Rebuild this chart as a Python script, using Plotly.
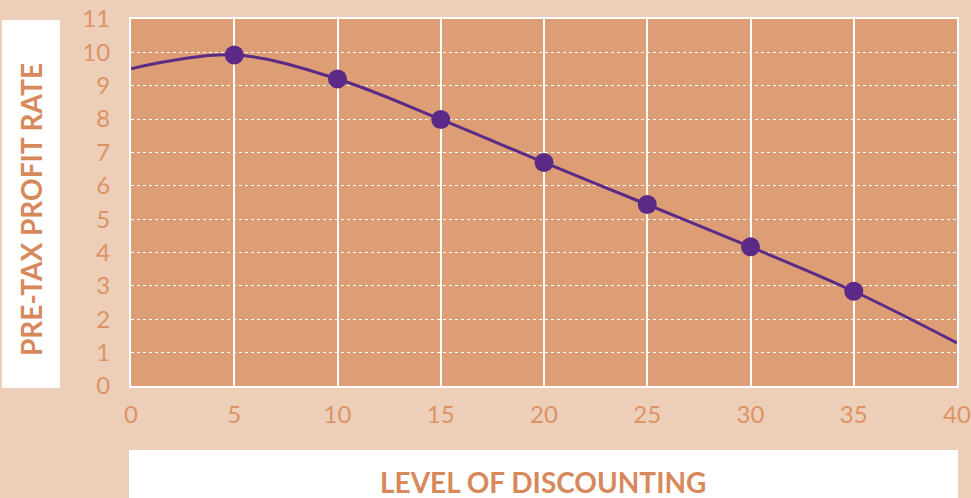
import plotly.graph_objects as go

# Pre-tax profit rate at each level of discounting
discount_levels = [5, 10, 15, 20, 25, 30, 35]
profit_rates = [9.92, 9.2, 7.99, 6.7, 5.44, 4.17, 2.84]

# Fitted curve continues to the axis limits
curve_start = (0, 9.51)
curve_end = (40, 1.29)

x_ticks = [0, 5, 10, 15, 20, 25, 30, 35, 40]
y_ticks = list(range(0, 12))

PAPER_BG = "#EDCFB9"
PLOT_BG = "#DD9E76"
TICK_COLOR = "#DC9364"
TITLE_COLOR = "#D8895B"
PURPLE = "#5A2A86"

curve_x = [curve_start[0]] + discount_levels + [curve_end[0]]
curve_y = [curve_start[1]] + profit_rates + [curve_end[1]]

fig = go.Figure()
fig.add_trace(go.Scatter(
    x=curve_x, y=curve_y, mode="lines",
    line=dict(color=PURPLE, width=3, shape="spline", smoothing=1.0),
    hoverinfo="skip", showlegend=False,
))
fig.add_trace(go.Scatter(
    x=discount_levels, y=profit_rates, mode="markers",
    marker=dict(color=PURPLE, size=19),
    showlegend=False,
))

# Plot area spans 131..957 px horizontally and 19..386 px vertically
L, R, T, B = 131, 957, 19, 386
W, H = R - L, B - T


def px_x(p):
    return (p - L) / W


def px_y(p):
    return (B - p) / H


fig.update_layout(
    width=971, height=498, autosize=False,
    margin=dict(l=L, r=971 - R, t=T, b=498 - B),
    paper_bgcolor=PAPER_BG, plot_bgcolor=PLOT_BG,
    font=dict(family="Lato, sans-serif", color=TICK_COLOR, size=23),
    xaxis=dict(
        range=[0, 40], tickvals=x_ticks, ticks="", automargin=False,
        showgrid=True, gridcolor="white", gridwidth=2,
        zeroline=False, showline=True, linecolor="white", linewidth=2, mirror=True,
        tickfont=dict(size=24, color=TICK_COLOR), ticklabelstandoff=6,
    ),
    yaxis=dict(
        range=[0, 11], tickvals=y_ticks, ticks="", automargin=False,
        showgrid=True, gridcolor="white", gridwidth=1, griddash="dot",
        zeroline=False, showline=True, linecolor="white", linewidth=2, mirror=True,
        tickfont=dict(size=24, color=TICK_COLOR), ticklabelstandoff=14,
    ),
    shapes=[
        dict(type="rect", xref="paper", yref="paper", layer="above",
             x0=px_x(2), x1=px_x(60), y0=px_y(388), y1=px_y(20),
             fillcolor="white", line=dict(width=0)),
        dict(type="rect", xref="paper", yref="paper", layer="above",
             x0=px_x(129), x1=px_x(958), y0=px_y(450), y1=px_y(500),
             fillcolor="white", line=dict(width=0)),
    ],
    annotations=[
        dict(text="<b>PRE-TAX PROFIT RATE</b>", xref="paper", yref="paper",
             x=px_x(31), y=px_y(210), textangle=-90, showarrow=False,
             xanchor="center", yanchor="middle",
             font=dict(family="Lato, sans-serif", size=28, color=TITLE_COLOR)),
        dict(text="<b>LEVEL OF DISCOUNTING</b>", xref="paper", yref="paper",
             x=px_x(543), y=px_y(482), showarrow=False,
             xanchor="center", yanchor="middle",
             font=dict(family="Lato, sans-serif", size=28, color=TITLE_COLOR)),
    ],
)

fig.write_html("out.html")
